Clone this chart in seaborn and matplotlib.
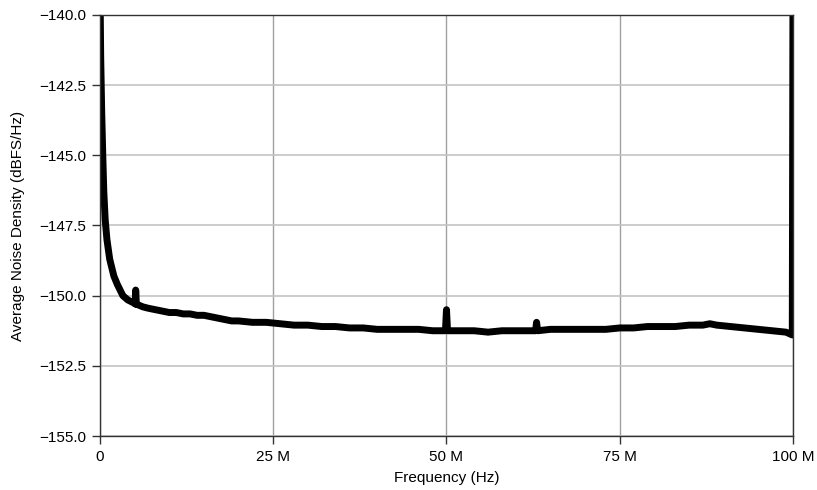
import matplotlib
matplotlib.use("Agg")
import matplotlib.pyplot as plt
import seaborn as sns
import pandas as pd
from matplotlib.ticker import FuncFormatter

# frequency in MHz, noise density in dBFS/Hz
freq_mhz = [0.0, 0.1, 0.25, 0.4, 0.55, 0.75, 1.0, 1.4, 2.0, 2.5, 3.3, 4.0, 4.8, 5.1, 5.15, 5.25,
            6.2, 7.0, 8.0, 9.0, 10.0, 11.0, 12.0, 13.0, 14.0, 15.0,
            16.0, 17.0, 18.0, 19.0, 20.0, 22.0, 24.0, 26.0, 28.0, 30.0, 32.0, 34.0, 36.0,
            38.0, 40.0, 42.0, 44.0, 46.0, 48.0, 49.85, 50.0, 50.15, 52.0, 54.0, 56.0, 58.0,
            60.0, 62.0, 62.85, 63.0, 63.15, 65.0, 67.0, 69.0, 71.0, 73.0, 75.0, 77.0, 79.0,
            81.0, 83.0, 85.0, 87.0, 88.0, 89.0, 91.0, 93.0, 95.0, 97.0, 99.0, 99.9, 100.0]
density = [-139.0, -141.5, -143.5, -145.0, -146.3, -147.3, -148.0, -148.7, -149.3, -149.6,
           -150.0, -150.15, -150.25, -150.3, -149.8, -150.3,
           -150.4, -150.45, -150.5, -150.55, -150.6, -150.6, -150.65, -150.65, -150.7, -150.7,
           -150.75, -150.8, -150.85, -150.9, -150.9, -150.95, -150.95, -151.0, -151.05,
           -151.05, -151.1, -151.1, -151.15,
           -151.15, -151.2, -151.2, -151.2, -151.2, -151.25, -151.25, -150.5, -151.25,
           -151.25, -151.25, -151.3, -151.25,
           -151.25, -151.25, -151.25, -150.95, -151.25, -151.2, -151.2, -151.2, -151.2,
           -151.2, -151.15, -151.15, -151.1,
           -151.1, -151.1, -151.05, -151.05, -151.0, -151.05, -151.1, -151.15, -151.2,
           -151.25, -151.3, -151.4, -139.0]

df = pd.DataFrame({"Frequency": [f * 1e6 for f in freq_mhz], "Density": density})

sns.set_theme(style="white")
plt.rcParams["font.family"] = ["Liberation Sans Narrow", "Liberation Sans", "DejaVu Sans"]

fig = plt.figure(figsize=(8.17, 4.9), dpi=100)
ax = fig.add_axes([0.1224, 0.1102, 0.8482, 0.8592])

sns.lineplot(data=df, x="Frequency", y="Density", ax=ax, color="black",
             linewidth=5, solid_joinstyle="round", estimator=None, sort=False)

ax.set_xlim(0, 100e6)
ax.set_ylim(-155, -140)
ax.set_xticks([0, 25e6, 50e6, 75e6, 100e6])
ax.set_yticks([-155, -152.5, -150, -147.5, -145, -142.5, -140])
ax.xaxis.set_major_formatter(FuncFormatter(lambda v, p: "0" if v == 0 else f"{int(v / 1e6)} M"))
ax.yaxis.set_major_formatter(FuncFormatter(lambda v, p: f"{v:.1f}".replace("-", "\u2212")))

ax.xaxis.grid(True, color="#a0a0a0", linewidth=1.0)
ax.yaxis.grid(True, color="#c4c4c4", linewidth=1.2)
ax.set_axisbelow(True)
for s in ax.spines.values():
    s.set_color("#333333")
    s.set_linewidth(1.0)

ax.tick_params(axis="both", direction="out", length=6, width=1, color="#333333",
               labelsize=11, labelcolor="black", bottom=True, left=True, pad=4)
ax.set_xlabel("Frequency (Hz)", fontsize=11, color="black", labelpad=5)
ax.set_ylabel("Average Noise Density (dBFS/Hz)", fontsize=11, color="black", labelpad=10)

fig.savefig("out.png", dpi=100)
